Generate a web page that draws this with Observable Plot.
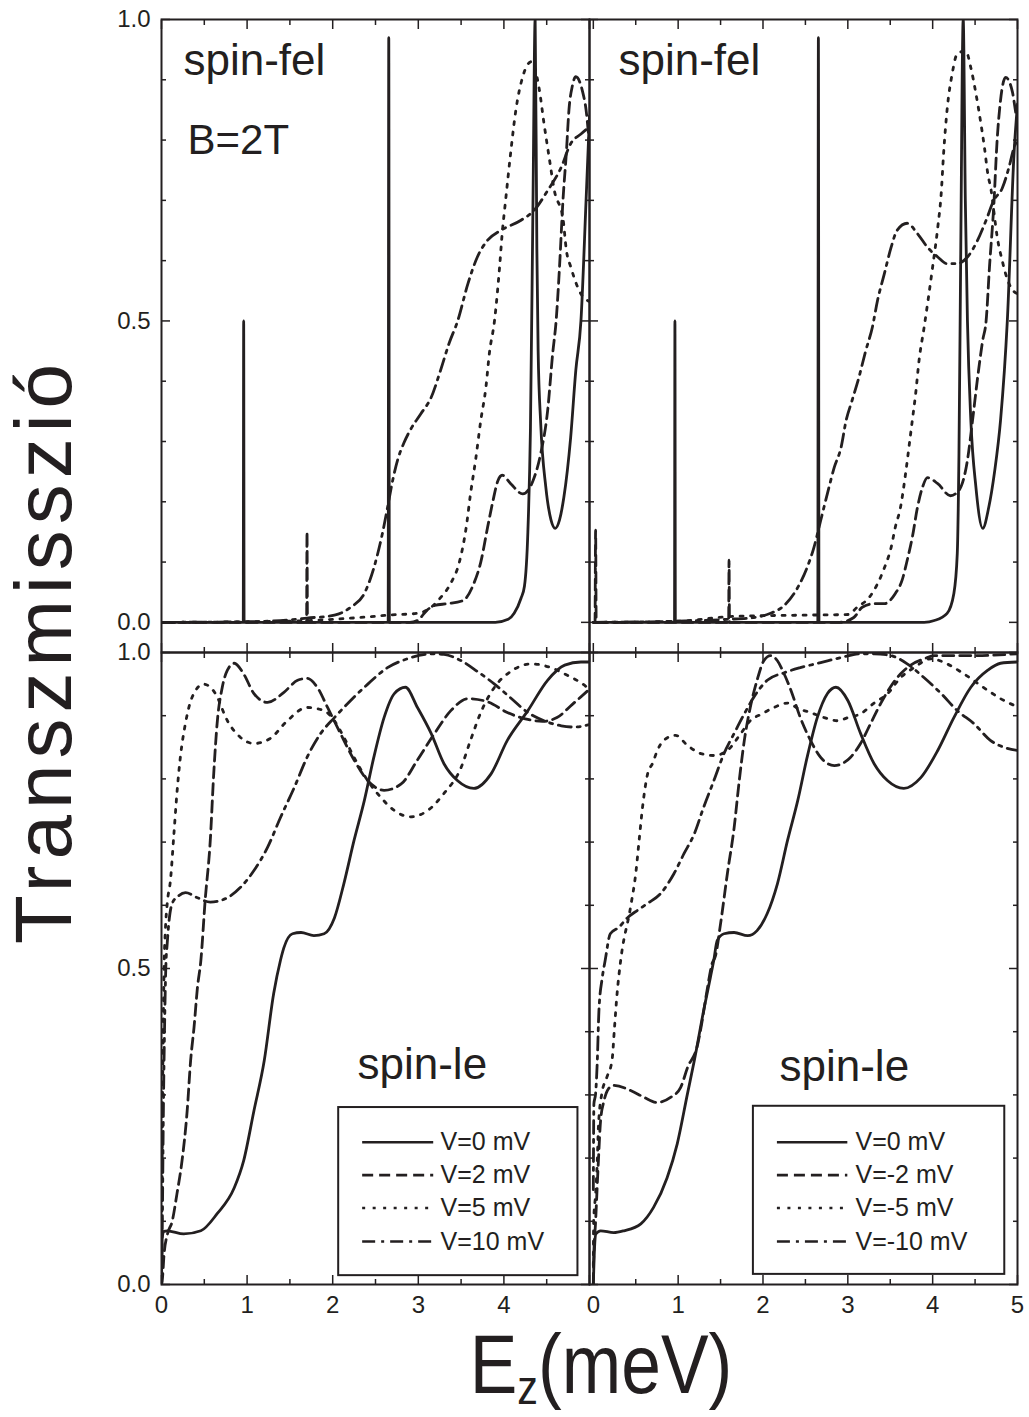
<!DOCTYPE html>
<html><head><meta charset="utf-8">
<script src="https://cdn.jsdelivr.net/npm/d3@7"></script>
<script src="https://cdn.jsdelivr.net/npm/@observablehq/plot@0.6"></script>
<style>
body{margin:0;background:#fff;}
#wrap{position:relative;width:1029px;height:1417px;font-family:"Liberation Sans",Arial,sans-serif;color:#231f20;overflow:hidden;}
#wrap svg{position:absolute;left:0;top:0;overflow:visible;}
#wrap g[aria-label="x-axis tick label"], #wrap g[aria-label="y-axis tick label"]{font-size:24px;}
.ytitle{position:absolute;left:44px;top:651px;transform:translate(-50%,-50%) rotate(-90deg);font-size:80px;letter-spacing:6px;line-height:1;white-space:nowrap;}
.xtitle{position:absolute;left:601px;top:1322px;transform:translateX(-50%) scaleX(0.85);font-size:84px;line-height:1;white-space:nowrap;}
.xtitle .sub{font-size:0.58em;vertical-align:-0.22em;}
</style></head><body>
<div id="wrap">
<div class="ytitle">Transzmisszió</div>
<div class="xtitle">E<span class="sub">z</span>(meV)</div>
</div>
<script>
// ---------- data: [E (meV), transmission] ----------
// top-left: spin-fel, V >= 0
const tlV0 = [[0,0],[0.94,0],[0.955,0],[0.96,0.5],[0.965,0],[0.98,0],[2.63,0],[2.648,0],[2.655,0.97],[2.662,0],[2.68,0],[3.9,0],[4.05,0.005],[4.12,0.015],[4.2,0.04],[4.24,0.06],[4.28,0.15],[4.31,0.32],[4.34,0.7],[4.365,1.0],[4.385,0.62],[4.40,0.45],[4.43,0.33],[4.49,0.224],[4.55,0.17],[4.6,0.156],[4.65,0.17],[4.7,0.207],[4.78,0.307],[4.84,0.418],[4.9,0.5],[4.96,0.7],[5.0,0.84]];
const tlV2 = [[0,0],[1.68,0],[1.695,0],[1.70,0.15],[1.705,0],[1.72,0],[2.9,0],[2.99,0.003],[3.1,0.02],[3.19,0.028],[3.34,0.031],[3.52,0.036],[3.65,0.065],[3.73,0.10],[3.81,0.158],[3.87,0.20],[3.93,0.235],[3.98,0.244],[4.08,0.23],[4.22,0.213],[4.34,0.235],[4.43,0.28],[4.51,0.35],[4.57,0.446],[4.61,0.5],[4.65,0.59],[4.69,0.70],[4.73,0.78],[4.76,0.85],[4.80,0.89],[4.84,0.905],[4.92,0.88],[4.96,0.85],[5.0,0.79]];
const tlV5 = [[0,0],[1.5,0.002],[2.0,0.005],[2.4,0.009],[2.64,0.012],[2.99,0.015],[3.15,0.025],[3.26,0.041],[3.38,0.065],[3.48,0.10],[3.56,0.158],[3.61,0.213],[3.67,0.27],[3.73,0.335],[3.79,0.39],[3.83,0.446],[3.89,0.5],[3.95,0.59],[3.98,0.645],[4.02,0.70],[4.08,0.78],[4.14,0.85],[4.22,0.905],[4.32,0.93],[4.41,0.887],[4.47,0.826],[4.53,0.77],[4.59,0.716],[4.69,0.67],[4.73,0.617],[4.78,0.59],[4.82,0.572],[4.88,0.55],[5.0,0.532]];
const tlV10 = [[0,0],[1.0,0.001],[1.5,0.004],[1.70,0.007],[2.02,0.012],[2.21,0.025],[2.37,0.048],[2.48,0.09],[2.58,0.147],[2.64,0.19],[2.70,0.235],[2.76,0.27],[2.83,0.297],[2.91,0.32],[3.03,0.346],[3.15,0.373],[3.26,0.418],[3.36,0.463],[3.46,0.50],[3.58,0.562],[3.69,0.606],[3.81,0.634],[3.96,0.65],[4.20,0.667],[4.35,0.683],[4.51,0.716],[4.67,0.755],[4.78,0.794],[4.90,0.81],[5.0,0.822]];
// top-right: spin-fel, V <= 0
const trV0 = [[0,0],[0.94,0],[0.957,0],[0.962,0.5],[0.967,0],[0.98,0],[2.63,0],[2.646,0],[2.653,0.97],[2.66,0],[2.68,0],[3.9,0],[4.02,0.003],[4.17,0.015],[4.25,0.048],[4.29,0.114],[4.31,0.28],[4.33,0.6],[4.36,1.0],[4.385,0.7],[4.41,0.5],[4.45,0.335],[4.51,0.224],[4.59,0.156],[4.66,0.19],[4.73,0.25],[4.80,0.335],[4.88,0.5],[4.96,0.78],[5.0,0.86]];
const trV2 = [[0,0],[0.02,0],[0.027,0.153],[0.034,0],[0.05,0],[1.58,0],[1.595,0],[1.60,0.103],[1.605,0],[1.62,0],[2.9,0],[3.07,0.008],[3.17,0.025],[3.31,0.031],[3.43,0.031],[3.56,0.048],[3.64,0.07],[3.70,0.103],[3.76,0.141],[3.82,0.19],[3.88,0.224],[3.94,0.24],[4.06,0.23],[4.21,0.21],[4.31,0.219],[4.41,0.269],[4.47,0.335],[4.53,0.406],[4.59,0.468],[4.63,0.5],[4.67,0.59],[4.72,0.69],[4.76,0.80],[4.80,0.866],[4.86,0.904],[4.94,0.88],[4.98,0.845],[5.0,0.83]];
const trV5 = [[0,0],[1.0,0.002],[1.66,0.01],[2.5,0.012],[3.0,0.013],[3.11,0.025],[3.25,0.041],[3.35,0.064],[3.43,0.09],[3.51,0.124],[3.56,0.158],[3.62,0.19],[3.68,0.246],[3.72,0.29],[3.76,0.335],[3.80,0.38],[3.84,0.435],[3.90,0.49],[4.00,0.59],[4.06,0.655],[4.10,0.71],[4.13,0.78],[4.17,0.85],[4.23,0.91],[4.29,0.943],[4.39,0.948],[4.45,0.92],[4.51,0.877],[4.57,0.826],[4.61,0.788],[4.65,0.744],[4.69,0.716],[4.72,0.683],[4.76,0.64],[4.82,0.60],[4.86,0.578],[4.92,0.556],[5.0,0.545]];
const trV10 = [[0,0],[1.0,0.002],[1.58,0.005],[1.89,0.008],[2.09,0.015],[2.25,0.028],[2.41,0.058],[2.52,0.091],[2.60,0.124],[2.68,0.169],[2.76,0.214],[2.84,0.257],[2.92,0.29],[2.98,0.335],[3.05,0.368],[3.13,0.406],[3.21,0.45],[3.29,0.49],[3.35,0.534],[3.43,0.578],[3.51,0.622],[3.58,0.65],[3.70,0.662],[3.82,0.645],[3.94,0.622],[4.06,0.606],[4.17,0.595],[4.29,0.595],[4.41,0.606],[4.53,0.634],[4.63,0.667],[4.72,0.70],[4.82,0.72],[4.90,0.755],[4.96,0.788],[5.0,0.80]];
// bottom-left: spin-le, V >= 0
const blV0 = [[0,0],[0.008,0.074],[0.03,0.084],[0.067,0.085],[0.26,0.08],[0.46,0.085],[0.65,0.112],[0.85,0.153],[0.96,0.196],[1.08,0.275],[1.20,0.354],[1.31,0.46],[1.39,0.513],[1.43,0.533],[1.53,0.555],[1.63,0.557],[1.78,0.552],[1.90,0.555],[2.02,0.58],[2.13,0.634],[2.25,0.703],[2.37,0.766],[2.48,0.834],[2.60,0.897],[2.72,0.935],[2.85,0.945],[2.99,0.913],[3.15,0.872],[3.30,0.824],[3.46,0.797],[3.65,0.785],[3.85,0.808],[4.04,0.861],[4.28,0.908],[4.51,0.956],[4.71,0.98],[4.90,0.985],[5.0,0.985]];
const blV2 = [[0,0],[0.008,0.005],[0.03,0.048],[0.07,0.08],[0.125,0.10],[0.18,0.143],[0.24,0.196],[0.30,0.275],[0.34,0.354],[0.38,0.407],[0.42,0.47],[0.46,0.513],[0.51,0.608],[0.57,0.703],[0.61,0.808],[0.65,0.888],[0.71,0.945],[0.77,0.972],[0.85,0.983],[0.96,0.966],[1.08,0.935],[1.24,0.921],[1.43,0.937],[1.59,0.956],[1.70,0.959],[1.82,0.945],[1.94,0.913],[2.09,0.872],[2.25,0.83],[2.41,0.797],[2.60,0.782],[2.80,0.792],[2.99,0.83],[3.19,0.872],[3.38,0.908],[3.58,0.927],[3.81,0.922],[4.04,0.905],[4.25,0.895],[4.45,0.891],[4.62,0.897],[4.80,0.918],[5.0,0.942]];
const blV5 = [[0,0],[0.005,0.1],[0.01,0.25],[0.02,0.4],[0.03,0.5],[0.045,0.56],[0.067,0.603],[0.105,0.64],[0.145,0.713],[0.18,0.777],[0.22,0.834],[0.28,0.888],[0.36,0.93],[0.49,0.95],[0.63,0.935],[0.77,0.892],[0.92,0.866],[1.08,0.856],[1.27,0.864],[1.47,0.892],[1.70,0.913],[1.90,0.908],[2.02,0.892],[2.13,0.866],[2.25,0.834],[2.41,0.797],[2.56,0.771],[2.72,0.75],[2.91,0.74],[3.11,0.75],[3.30,0.777],[3.50,0.818],[3.61,0.861],[3.73,0.905],[3.89,0.945],[4.08,0.97],[4.32,0.982],[4.55,0.976],[4.74,0.964],[4.90,0.952],[5.0,0.942]];
const blV10 = [[0,0],[0.01,0.1],[0.02,0.25],[0.035,0.4],[0.05,0.5],[0.067,0.54],[0.085,0.571],[0.125,0.603],[0.20,0.615],[0.28,0.62],[0.42,0.612],[0.57,0.605],[0.77,0.612],[0.92,0.628],[1.08,0.655],[1.24,0.692],[1.39,0.739],[1.55,0.786],[1.70,0.834],[1.86,0.872],[2.02,0.897],[2.21,0.924],[2.41,0.95],[2.64,0.976],[2.87,0.99],[3.19,0.998],[3.30,0.997],[3.50,0.987],[3.69,0.97],[3.89,0.95],[4.08,0.928],[4.28,0.905],[4.47,0.892],[4.67,0.884],[4.82,0.882],[5.0,0.886]];
// bottom-right: spin-le, V <= 0
const brV0 = [[0,0],[0.015,0.06],[0.03,0.08],[0.086,0.085],[0.24,0.082],[0.36,0.085],[0.56,0.096],[0.71,0.122],[0.87,0.169],[0.99,0.223],[1.11,0.302],[1.19,0.354],[1.30,0.433],[1.38,0.486],[1.42,0.513],[1.46,0.544],[1.54,0.555],[1.66,0.557],[1.82,0.552],[1.93,0.56],[2.05,0.587],[2.17,0.634],[2.29,0.703],[2.41,0.766],[2.52,0.834],[2.64,0.897],[2.76,0.935],[2.86,0.945],[3.0,0.924],[3.15,0.872],[3.31,0.824],[3.47,0.797],[3.66,0.785],[3.86,0.802],[4.06,0.845],[4.25,0.897],[4.45,0.945],[4.65,0.972],[4.80,0.983],[5.0,0.985]];
const brV2 = [[0,0],[0.004,0.038],[0.027,0.1],[0.06,0.196],[0.086,0.26],[0.125,0.29],[0.18,0.31],[0.24,0.315],[0.44,0.307],[0.60,0.296],[0.75,0.288],[0.91,0.296],[1.03,0.312],[1.11,0.343],[1.23,0.38],[1.27,0.407],[1.34,0.465],[1.40,0.508],[1.44,0.52],[1.50,0.571],[1.58,0.65],[1.66,0.723],[1.72,0.797],[1.78,0.861],[1.85,0.913],[1.93,0.956],[2.01,0.987],[2.09,0.995],[2.17,0.987],[2.25,0.966],[2.33,0.94],[2.44,0.897],[2.56,0.861],[2.68,0.834],[2.84,0.821],[3.03,0.834],[3.15,0.856],[3.27,0.888],[3.39,0.92],[3.50,0.945],[3.62,0.966],[3.74,0.98],[3.90,0.99],[4.02,0.995],[4.49,0.995],[5.0,0.998]];
const brV5 = [[0,0.03],[0.004,0.1],[0.027,0.143],[0.047,0.196],[0.06,0.249],[0.10,0.302],[0.16,0.328],[0.22,0.354],[0.25,0.407],[0.28,0.46],[0.32,0.51],[0.44,0.598],[0.50,0.65],[0.54,0.703],[0.58,0.755],[0.64,0.808],[0.70,0.825],[0.755,0.845],[0.83,0.861],[0.97,0.869],[1.11,0.853],[1.27,0.84],[1.42,0.837],[1.58,0.845],[1.74,0.872],[1.85,0.892],[1.99,0.903],[2.13,0.913],[2.29,0.92],[2.42,0.911],[2.56,0.905],[2.72,0.897],[2.88,0.892],[3.0,0.897],[3.15,0.903],[3.31,0.92],[3.47,0.935],[3.62,0.96],[3.78,0.976],[3.98,0.99],[4.17,0.982],[4.37,0.966],[4.65,0.94],[4.80,0.927],[5.0,0.914]];
const brV10 = [[0,0.15],[0.007,0.286],[0.027,0.302],[0.047,0.354],[0.066,0.433],[0.106,0.486],[0.14,0.513],[0.20,0.555],[0.30,0.565],[0.40,0.58],[0.52,0.592],[0.64,0.603],[0.79,0.618],[0.95,0.65],[1.07,0.682],[1.19,0.713],[1.30,0.755],[1.42,0.797],[1.54,0.84],[1.66,0.872],[1.78,0.903],[1.89,0.929],[2.05,0.956],[2.25,0.968],[2.44,0.976],[2.68,0.984],[2.92,0.992],[3.15,0.998],[3.31,0.998],[3.51,0.995],[3.70,0.982],[3.90,0.96],[4.10,0.935],[4.29,0.908],[4.49,0.887],[4.68,0.861],[4.84,0.85],[5.0,0.845]];

// legend labels
const labelsPos = ["V=0 mV", "V=2 mV", "V=5 mV", "V=10 mV"];
const labelsNeg = ["V=0 mV", "V=-2 mV", "V=-5 mV", "V=-10 mV"];
// ticks
const xMajor = [0, 1, 2, 3, 4, 5];
const xMinor = [0.5, 1.5, 2.5, 3.5, 4.5];
const yMajor = [0, 0.5, 1];
const yMinor = [0.1, 0.2, 0.3, 0.4, 0.6, 0.7, 0.8, 0.9];
const yTickLabels = [0, 0.5, 1];
const xTickLabelsLeft = [0, 1, 2, 3, 4];
const xTickLabelsRight = [0, 1, 2, 3, 4, 5];

// ---------- drawing ----------
const ink = "#231f20";
const FW = 1029, FH = 1417;
const dashes = [null, "11,6", "3,7.5", "13,6,3,6"];
const font = "Liberation Sans, Arial, sans-serif";

function tickAxes() {
  const m = [];
  const common = {tickFormat: () => "", label: null, stroke: ink, strokeWidth: 1.5};
  for (const anchor of ["top", "bottom"]) {
    m.push(Plot.axisX(xMajor, {anchor, tickSize: -9, ...common}));
    m.push(Plot.axisX(xMinor, {anchor, tickSize: -5, ...common}));
  }
  for (const anchor of ["left", "right"]) {
    m.push(Plot.axisY(yMajor, {anchor, tickSize: -9, ...common}));
    m.push(Plot.axisY(yMinor, {anchor, tickSize: -5, ...common}));
  }
  return m;
}

function panel(cfg) {
  const marks = [];
  cfg.series.forEach((data, i) => {
    marks.push(Plot.line(data, {x: d => d[0], y: d => d[1], curve: "monotone-x", stroke: ink,
      strokeWidth: 2.8, strokeDasharray: dashes[i], clip: true}));
  });
  marks.push(...tickAxes());
  marks.push(Plot.frame({stroke: ink, strokeWidth: 2}));
  if (cfg.yLabels) marks.push(Plot.axisY(yTickLabels, {anchor: "left", tickSize: 0, tickPadding: 11,
    tickFormat: d3.format(".1f"), fontSize: 24, label: null, fill: ink}));
  if (cfg.xLabels) marks.push(Plot.axisX(cfg.xLabels, {anchor: "bottom", tickSize: 0, tickPadding: 11,
    tickFormat: d3.format("d"), fontSize: 24, label: null, fill: ink}));
  for (const t of cfg.texts) {
    marks.push(Plot.text([t.text], {text: d => d, frameAnchor: "top-left", dx: t.dx, dy: t.dy,
      textAnchor: "start", lineAnchor: "bottom", fontSize: t.size, fill: ink}));
  }
  if (cfg.legend) {
    const L = cfg.legend;
    marks.push(Plot.rect([0], {x1: L.x1, x2: L.x2, y1: L.y1, y2: L.y2, fill: "white", stroke: ink, strokeWidth: 2}));
    cfg.legendLabels.forEach((lab, i) => {
      const ry = L.rows[i];
      marks.push(Plot.ruleY([ry], {y: d => d, x1: L.lx1, x2: L.lx2, stroke: ink, strokeWidth: 2.6, strokeDasharray: dashes[i]}));
      marks.push(Plot.text([lab], {text: d => d, x: L.tx, y: ry, textAnchor: "start", lineAnchor: "middle", fontSize: 25, fill: ink}));
    });
  }
  return Plot.plot({
    width: FW, height: FH,
    marginLeft: cfg.box[0], marginRight: FW - cfg.box[1],
    marginTop: cfg.box[2], marginBottom: FH - cfg.box[3],
    x: {domain: cfg.xDomain}, y: {domain: cfg.yDomain},
    style: {background: "transparent", overflow: "visible", fontFamily: font, fontSize: "24px", color: ink},
    marks
  });
}

const rows = [0.225, 0.173, 0.121, 0.068];
const panels = [
  {box: [161, 589, 19, 652], xDomain: [0, 5], yDomain: [-0.05, 1], series: [tlV0, tlV2, tlV5, tlV10],
   yLabels: true, xLabels: null,
   texts: [{text: "spin-fel", dx: 22, dy: 55, size: 44}, {text: "B=2T", dx: 26, dy: 134, size: 42}]},
  {box: [589, 1017, 19, 652], xDomain: [-0.045, 5], yDomain: [-0.05, 1], series: [trV0, trV2, trV5, trV10],
   yLabels: false, xLabels: null,
   texts: [{text: "spin-fel", dx: 29, dy: 55, size: 44}]},
  {box: [161, 589, 652, 1284], xDomain: [0, 5], yDomain: [0, 1], series: [blV0, blV2, blV5, blV10],
   yLabels: true, xLabels: xTickLabelsLeft,
   texts: [{text: "spin-le", dx: 196, dy: 426, size: 44}],
   legend: {x1: 2.07, x2: 4.865, y1: 0.014, y2: 0.28, lx1: 2.35, lx2: 3.18, tx: 3.26, rows}, legendLabels: labelsPos},
  {box: [589, 1017, 652, 1284], xDomain: [-0.045, 5], yDomain: [0, 1], series: [brV0, brV2, brV5, brV10],
   yLabels: false, xLabels: xTickLabelsRight,
   texts: [{text: "spin-le", dx: 190, dy: 428, size: 44}],
   legend: {x1: 1.887, x2: 4.85, y1: 0.016, y2: 0.282, lx1: 2.17, lx2: 3.0, tx: 3.09, rows}, legendLabels: labelsNeg}
];

const wrap = document.getElementById("wrap");
for (const p of panels) wrap.appendChild(panel(p));
</script>
</body></html>
